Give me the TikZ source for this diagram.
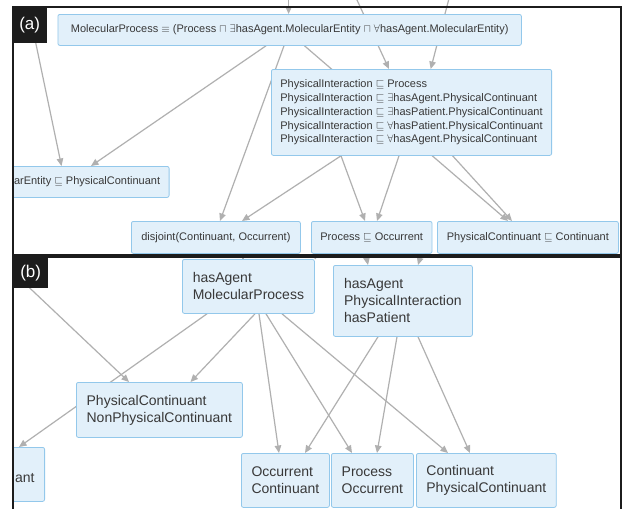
\documentclass[tikz,border=0pt]{standalone}
\usepackage{fontspec}
\setmainfont{Liberation Sans}
\usetikzlibrary{arrows.meta}
\definecolor{boxfill}{HTML}{E2F0FA}
\definecolor{boxline}{HTML}{93C8EB}
\definecolor{edgegray}{HTML}{B0B0B0}
\definecolor{txtgray}{HTML}{383838}
\definecolor{framecol}{HTML}{1C1C1C}
\pgfdeclarelayer{paper}
\pgfdeclarelayer{edges}
\pgfsetlayers{paper,edges,main}
\tikzset{
  axbox/.style={draw=boxline, fill=boxfill, line width=0.8pt, rounded corners=2pt,
    anchor=north west, inner xsep=9pt, inner ysep=0pt, align=left, text=txtgray,
    font=\fontsize{11}{13.8}\selectfont},
  grpbox/.style={axbox, inner xsep=10pt, font=\fontsize{14}{17}\selectfont},
  link/.style={draw=edgegray, line width=1.2pt, -{Triangle[length=7.5pt,width=6.5pt]}},
  stub/.style={draw=edgegray, line width=1.2pt},
  panel/.style={draw=framecol, line width=2pt},
  tag/.style={fill=framecol, text=white, anchor=north west, inner sep=0pt,
    font=\fontsize{17}{17}\selectfont},
}
\begin{document}
\begin{tikzpicture}[x=1pt, y=-1pt]
    \useasboundingbox (0,0) rectangle (622,509);
    \begin{pgfonlayer}{paper}
       \fill[white] (0,0) rectangle (622,509);
    \end{pgfonlayer}

    % panel (a)
    \node[axbox, minimum width=463.5, minimum height=31] (mpa) at (57.5,14)
       {MolecularProcess $\equiv$ (Process $\sqcap$ $\exists$hasAgent.MolecularEntity $\sqcap$ $\forall$hasAgent.MolecularEntity)};
    \node[axbox, minimum width=276, minimum height=86] (pia) at (271,69)
       {PhysicalInteraction $\sqsubseteq$ Process\\
        PhysicalInteraction $\sqsubseteq$ $\exists$hasAgent.PhysicalContinuant\\
        PhysicalInteraction $\sqsubseteq$ $\exists$hasPatient.PhysicalContinuant\\
        PhysicalInteraction $\sqsubseteq$ $\forall$hasPatient.PhysicalContinuant\\
        PhysicalInteraction $\sqsubseteq$ $\forall$hasAgent.PhysicalContinuant};
    \begin{scope}
       \clip (13,7) rectangle (621,255);
       \node[axbox, anchor=north east, minimum height=31] (arent) at (169.5,166)
          {arEntity $\sqsubseteq$ PhysicalContinuant};
    \end{scope}
    \node[axbox, minimum width=169, minimum height=32] (disj) at (131,221) {disjoint(Continuant, Occurrent)};
    \node[axbox, minimum width=120.5, minimum height=32] (poa) at (311,221) {Process $\sqsubseteq$ Occurrent};
    \node[axbox, minimum width=181, minimum height=32] (pcca) at (437,221) {PhysicalContinuant $\sqsubseteq$ Continuant};

    % panel (b)
    \node[grpbox, minimum width=132, minimum height=54] (mpb) at (182,259) {hasAgent\\MolecularProcess};
    \node[grpbox, minimum width=139, minimum height=71] (pib) at (333,265) {hasAgent\\PhysicalInteraction\\hasPatient};
    \node[grpbox, minimum width=166, minimum height=55] (pcn) at (76,382) {PhysicalContinuant\\NonPhysicalContinuant};
    \begin{scope}
       \clip (13,257) rectangle (621,509);
       \node[grpbox, anchor=north east, minimum height=54] (antb) at (45,447) {\mbox{}\\ant};
    \end{scope}
    \node[grpbox, minimum width=88, minimum height=54] (ocb) at (241,453) {Occurrent\\Continuant};
    \node[grpbox, minimum width=82, minimum height=54] (pob) at (331,453) {Process\\Occurrent};
    \node[grpbox, minimum width=139, minimum height=54] (cpcb) at (416,453) {Continuant\\PhysicalContinuant};

    \coordinate (topa1) at (288.6,0);
    \coordinate (topa2) at (357,0);
    \coordinate (topa3) at (448.6,0);
    \coordinate (lefta) at (32,25);
    \coordinate (topb1) at (243,254);
    \coordinate (topb2) at (319,254);
    \coordinate (topb3) at (366,255);
    \coordinate (topb4) at (421,255);
    \coordinate (leftb) at (16,275);

    \begin{pgfonlayer}{edges}
       \draw[link] (topa1) -- (mpa.north -| topa1);
       \draw[link] (topa2) -- (pia.north -| 389,0);
       \draw[link] (topa3) -- (pia.north -| 430.7,0);
       \draw[link] (lefta) -- (arent.north -| 61.5,0);
       \draw[link] (mpa.south -| 266,0) -- (arent.north -| 91,0);
       \draw[link] (mpa.south -| 284,0) -- (disj.north -| 220,0);
       \draw[link] (mpa.south -| 304.5,0) -- (pcca.north -| 508,0);
       \draw[link] (pia.south -| 341,0) -- (disj.north -| 242,0);
       \draw[link] (pia.south -| 341,0) -- (poa.north -| 365,0);
       \draw[link] (pia.south -| 399,0) -- (poa.north -| 377,0);
       \draw[link] (pia.south -| 452.6,0) -- (pcca.north -| 512,0);

       \draw[stub] (topb1) -- (mpb.north -| topb1);
       \draw[stub] (topb2) -- (mpb.north east);
       \draw[link] (topb3) -- (pib.north -| 368,0);
       \draw[link] (topb4) -- (pib.north -| 418,0);
       \draw[link] (leftb) -- (pcn.north -| 129,0);
       \draw[link] (mpb.south -| 207,0) -- (antb.north -| 19,0);
       \draw[link] (mpb.south -| 255,0) -- (pcn.north -| 190.5,0);
       \draw[link] (mpb.south -| 259,0) -- (ocb.north -| 279,0);
       \draw[link] (mpb.south -| 266,0) -- (pob.north -| 352,0);
       \draw[link] (mpb.south -| 282,0) -- (cpcb.north -| 448,0);
       \draw[link] (pib.south -| 378,0) -- (ocb.north -| 305,0);
       \draw[link] (pib.south -| 397,0) -- (pob.north -| 377,0);
       \draw[link] (pib.south -| 418,0) -- (cpcb.north -| 470,0);
    \end{pgfonlayer}

    \draw[panel] (13,7) rectangle (621,255);
    \draw[panel] (13,256.5) rectangle (621,520);
    \node[tag, minimum width=35, minimum height=36] (taga) at (12,7) {(a)};
    \node[tag, minimum width=35, minimum height=31] (tagb) at (13,257) {(b)};
\end{tikzpicture}
\end{document}
